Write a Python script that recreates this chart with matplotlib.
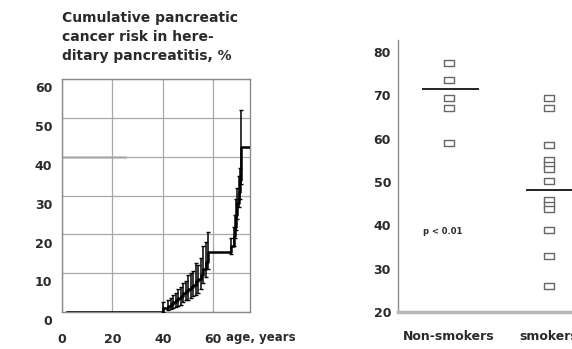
import numpy as np
import matplotlib
matplotlib.use('agg')
import matplotlib.pyplot as plt
import matplotlib.transforms as mtrans
from matplotlib.path import Path

# left panel: cumulative risk (step curve with error bars)
ages = [40, 42, 43, 44, 45, 46, 47, 48, 49, 50, 51, 52, 53, 54, 55, 56, 57, 58,
        67, 68, 68.5, 69, 69.5, 70, 70.5, 71]
risk = [1.0, 1.5, 2.0, 2.5, 3.0, 3.5, 4.0, 5.0, 5.5, 6.0, 6.5, 7.0, 8.0, 8.5, 9.5, 11.0, 13.0, 15.5,
        17.0, 19.5, 22.0, 25.0, 28.0, 31.0, 34.0, 42.5]
risk_hi = [2.5, 3.0, 3.5, 4.5, 5.0, 6.0, 6.5, 7.5, 8.0, 9.5, 10.0, 10.5, 12.5, 12.0, 14.0, 17.0, 18.0, 20.5,
           19.0, 22.0, 25.0, 29.0, 32.0, 35.0, 37.0, 52.0]
risk_lo = [0.0, 0.5, 0.8, 1.0, 1.2, 1.5, 1.8, 2.5, 3.0, 3.0, 3.5, 4.0, 4.5, 5.0, 6.0, 7.5, 9.0, 11.0,
           15.0, 17.0, 19.0, 21.0, 24.0, 27.0, 29.0, 33.0]
age_start, age_end = 2, 74.5
left_yticks = [0, 10, 20, 30, 40, 50, 60]
left_xticks = [0, 20, 40, 60]

# right panel: two groups
groups = ['Non-smokers', 'smokers']
nonsmokers = [77.5, 73.5, 69.5, 67.0, 59.0]
smokers = [69.5, 67.0, 58.5, 55.2, 54.0, 53.0, 50.2, 45.8, 44.8, 43.8, 39.0, 33.0, 26.0]
group_means = [71.6, 48.1]
right_yticks = [20, 30, 40, 50, 60, 70, 80]

txt = '#2a2a2a'
grid_c = '#a8a8a8'

fig = plt.figure(figsize=(5.72, 3.49), dpi=100)
fig.patch.set_facecolor('white')

# ---- left panel
ax1 = fig.add_axes([62 / 572, 1 - 312 / 349, 188 / 572, 233 / 349])
ax1.step([age_start] + ages + [age_end], [0] + risk + [risk[-1]], where='post',
         color='black', lw=1.8, zorder=3)
yerr = [np.array(risk) - np.array(risk_lo), np.array(risk_hi) - np.array(risk)]
ax1.errorbar(ages, risk, yerr=yerr, fmt='none', ecolor='black', elinewidth=1.1,
             capsize=1.5, capthick=1, zorder=3)
ax1.plot([0, 25], [40, 40], color='#c8c8c8', lw=2, zorder=1)
ax1.set_xlim(0, 74.5)
ax1.set_ylim(0, 60)
ax1.set_xticks(left_xticks)
ax1.set_yticks(left_yticks)
ax1.grid(True, color=grid_c, lw=0.9)
ax1.tick_params(length=0, labelsize=9, labelcolor=txt, pad=7)
for lab in ax1.get_xticklabels() + ax1.get_yticklabels():
    lab.set_fontweight('bold')
for lab in ax1.get_yticklabels():
    lab.set_transform(lab.get_transform() + mtrans.ScaledTranslation(0, -6 / 72, fig.dpi_scale_trans))
for lab in ax1.get_xticklabels():
    lab.set_transform(lab.get_transform() + mtrans.ScaledTranslation(0, -8 / 72, fig.dpi_scale_trans))
for s in ax1.spines.values():
    s.set_color('#8a8a8a')
    s.set_linewidth(1.0)
fig.text(226 / 572, 1 - 337 / 349, 'age, years', fontsize=8.5, fontweight='bold',
         color=txt, va='center', ha='left')
fig.text(62 / 572, 1 - 11 / 349,
         'Cumulative pancreatic\ncancer risk in here-\nditary pancreatitis, %',
         fontsize=10, fontweight='bold', color=txt, va='top', ha='left', linespacing=1.45)

# ---- right panel
ax2 = fig.add_axes([398 / 572, 1 - 312 / 349, 222 / 572, 272 / 349])
box = Path([(-1, -0.6), (1, -0.6), (1, 0.6), (-1, 0.6), (-1, -0.6)],
           [Path.MOVETO, Path.LINETO, Path.LINETO, Path.LINETO, Path.CLOSEPOLY])
for i, vals in enumerate([nonsmokers, smokers]):
    ax2.plot([i + 1] * len(vals), vals, linestyle='none', marker=box, markersize=7.5,
             markerfacecolor='white', markeredgecolor='#666666', markeredgewidth=1.0, zorder=3)
ax2.plot([0.74, 1.29], [group_means[0]] * 2, color='#222222', lw=1.4, zorder=4)
ax2.plot([1.78, 2.6], [group_means[1]] * 2, color='#222222', lw=1.4, zorder=4)
ax2.text(0.74, 38.7, 'p < 0.01', fontsize=6, fontweight='bold', color=txt, va='center', ha='left')
ax2.set_xlim(0.49, 2.71)
ax2.set_ylim(20, 82.8)
ax2.set_yticks(right_yticks)
ax2.set_xticks([1, 2])
ax2.set_xticklabels(groups)
ax2.tick_params(length=0, labelsize=9, labelcolor=txt, pad=5)
ax2.tick_params(axis='x', labelsize=9, pad=13)
for lab in ax2.get_xticklabels() + ax2.get_yticklabels():
    lab.set_fontweight('bold')
ax2.spines['top'].set_visible(False)
ax2.spines['right'].set_visible(False)
ax2.spines['left'].set_color('#8a8a8a')
ax2.spines['left'].set_linewidth(1.0)
ax2.spines['bottom'].set_color('#b8b8b8')
ax2.spines['bottom'].set_linewidth(2.5)

plt.savefig('out.png', dpi=100)
